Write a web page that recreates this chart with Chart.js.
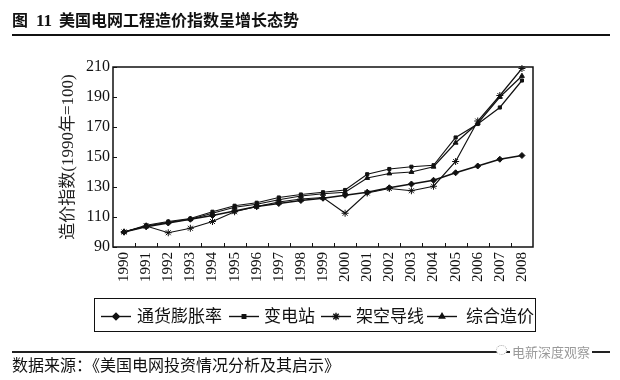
<!DOCTYPE html>
<html><head><meta charset="utf-8">
<script src="https://cdn.jsdelivr.net/npm/chart.js@4/dist/chart.umd.min.js"></script>
<style>
html,body{margin:0;padding:0;background:#fff;}
#wrap{position:relative;width:620px;height:380px;overflow:hidden;background:#fff;}
#c{position:absolute;left:0;top:0;}
.t{position:absolute;white-space:nowrap;color:#111;font-family:'Noto Sans CJK SC',sans-serif;}
.li{position:absolute;top:307px;height:18px;}
.lt{position:absolute;top:303px;font-size:17px;line-height:24px;color:#111;font-family:'Noto Sans CJK SC',sans-serif;white-space:nowrap;}
</style></head><body>
<div id="wrap">
<canvas id="c" width="620" height="380"></canvas>
<div class="t" style="left:12px;top:7px;font-size:16px;font-weight:bold;line-height:24px;">图<span style="font-family:'Liberation Serif';font-size:17px;margin:0 7px 0 8px;">11</span>美国电网工程造价指数呈增长态势</div>
<div style="position:absolute;left:12px;top:34px;width:598px;height:2px;background:#111"></div>
<div id="legend" style="position:absolute;left:94px;top:298px;width:440px;height:32px;border:1.5px solid #111;"></div>
<div style="position:absolute;left:12px;top:351px;width:598px;height:1.5px;background:#222"></div>
<div class="t" style="left:510px;top:343px;font-size:13px;color:#9a9a9a;background:#fff;padding:0 2px;line-height:18px;">电新深度观察</div>
<div style="position:absolute;left:496px;top:345px;width:9px;height:8px;border:1px dotted #aaa;border-radius:50%;background:#fff;"></div>
<div class="t" style="left:12px;top:352px;font-size:16px;line-height:24px;color:#111;">数据来源：《美国电网投资情况分析及其启示》</div>
</div>
<script>
const years = ['1990','1991','1992','1993','1994','1995','1996','1997','1998','1999','2000','2001','2002','2003','2004','2005','2006','2007','2008'];
const inflation    = [100,103.5,106,108.5,111,114,117,119,121,122.5,124.5,126.5,129.5,132,134.5,139.5,144,148.5,151];
const substation   = [100,104.5,107,109,113.5,117.5,119.5,123,125,126.5,128,138.5,142,143.5,144.5,163,172,183,201];
const overheadLine = [100,104,99.5,102.5,107,113.5,117,120,122,123,112.5,126,129,127.5,130.5,147,174,191,209];
const composite    = [100,104,106.5,108.5,112.5,116.5,118.5,121.5,124,125.5,126.5,136,139,140,143.5,159.5,172.5,190,204];
const seriesNames  = ['通货膨胀率','变电站','架空导线','综合造价'];
const yMin = 90, yMax = 210, yStep = 20;

const styles = [
  {pointStyle:'rectRot', radius:3, borderWidth:1.7},
  {pointStyle:'rect', radius:2.2, borderWidth:1.2},
  {pointStyle:'star', radius:3.5, borderWidth:1.2},
  {pointStyle:'triangle', radius:2.8, borderWidth:1.2}
];
const values = [inflation, substation, overheadLine, composite];

const frame = {
  id:'frame',
  beforeDatasetsDraw(chart){
    const {ctx, chartArea:a, scales:{x,y}} = chart;
    ctx.save();
    ctx.strokeStyle='#111';
    ctx.lineWidth=1.5;
    ctx.strokeRect(a.left, a.top, a.right-a.left, a.bottom-a.top);
    ctx.lineWidth=1;
    ctx.beginPath();
    y.ticks.forEach((t,i)=>{const py=Math.round(y.getPixelForTick(i))+0.5; ctx.moveTo(a.left,py); ctx.lineTo(a.left+4,py);});
    const half=(x.getPixelForValue(1)-x.getPixelForValue(0))/2;
    for(let i=0;i<years.length-1;i++){const px=Math.round(x.getPixelForValue(i)+half)+0.5; ctx.moveTo(px,a.bottom); ctx.lineTo(px,a.bottom-4);}
    ctx.stroke();
    ctx.restore();
  }
};

new Chart(document.getElementById('c'), {
  type:'line',
  data:{
    labels:years,
    datasets: values.map((v,i)=>({
      label:seriesNames[i], data:v,
      borderColor:'#111', backgroundColor:'#111',
      borderWidth:styles[i].borderWidth,
      pointStyle:styles[i].pointStyle, pointRadius:styles[i].radius,
      pointBorderWidth:1, pointBackgroundColor:'#111', pointBorderColor:'#111',
      tension:0, clip:false
    }))
  },
  options:{
    responsive:false, animation:false, devicePixelRatio:1,
    layout:{padding:{left:58,right:87,top:67,bottom:93}},
    plugins:{legend:{display:false}, tooltip:{enabled:false}},
    scales:{
      x:{
        offset:true,
        grid:{display:false, drawTicks:false},
        border:{display:false},
        ticks:{autoSkip:false, minRotation:90, maxRotation:90, padding:5, color:'#111',
               font:{family:'Liberation Serif', size:15}},
        afterFit(s){ s.height = 40; }
      },
      y:{
        min:yMin, max:yMax,
        grid:{display:false, drawTicks:false},
        border:{display:false},
        ticks:{stepSize:yStep, padding:3, color:'#111', font:{family:'Liberation Serif', size:16}},
        title:{display:true, text:'造价指数(1990年=100)', color:'#222', padding:{top:0,bottom:0},
               font:{family:"'Liberation Serif','Noto Sans CJK SC'", size:17}},
        afterFit(s){ s.width = 55; }
      }
    }
  },
  plugins:[frame]
});

// legend icons + labels
const legend = document.getElementById('wrap');
const iconX = [101, 229, 321, 427];
const textX = [137, 264, 356, 466];
values.forEach((v,i)=>{
  const cv = document.createElement('canvas');
  cv.width = 30; cv.height = 18; cv.className='li';
  cv.style.left = iconX[i]+'px';
  const g = cv.getContext('2d');
  g.strokeStyle='#111'; g.fillStyle='#111'; g.lineWidth=1.4;
  g.beginPath(); g.moveTo(0,9.5); g.lineTo(30,9.5); g.stroke();
  Chart.helpers.drawPoint(g, {pointStyle:styles[i].pointStyle, radius:styles[i].radius+0.3, borderWidth:1, rotation:0}, 15, 9.5);
  legend.appendChild(cv);
  const tx = document.createElement('div');
  tx.className='lt'; tx.style.left=textX[i]+'px'; tx.textContent=seriesNames[i];
  legend.appendChild(tx);
});
</script>
</body></html>
